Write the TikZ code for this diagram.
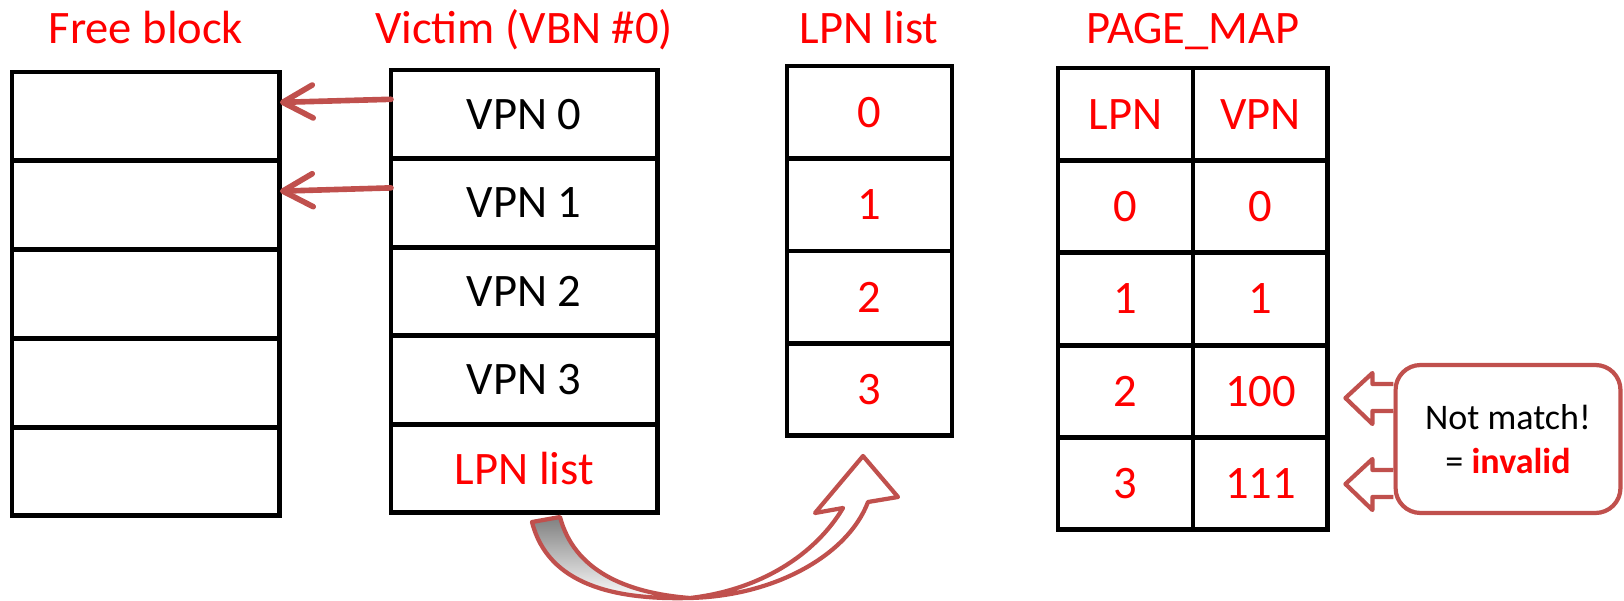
\documentclass[tikz,border=0pt]{standalone}
\usepackage{fontspec}
\setmainfont{Carlito}
\usetikzlibrary{positioning,arrows.meta}
\definecolor{accred}{RGB}{192,80,77}
\definecolor{txtred}{RGB}{255,0,0}
\definecolor{shade}{RGB}{204,204,204}

\begin{document}
\begin{tikzpicture}[x=0.02cm,y=-0.02cm,
  every node/.style={font=\fontsize{26.5}{32}\selectfont},
  cell/.style={draw,line width=2.8pt,outer sep=0pt,inner sep=0pt},
  fcell/.style={cell,minimum width=5.36cm,minimum height=1.776cm},
  vcell/.style={cell,minimum width=5.33cm,minimum height=1.772cm},
  lcell/.style={cell,text=txtred,minimum width=3.3cm,minimum height=1.85cm},
  mcell/.style={cell,text=txtred,minimum width=2.7cm,minimum height=1.848cm},
  title/.style={text=txtred,anchor=base},
  movearrow/.style={accred,line width=3.2pt,line cap=round,
    -{Straight Barb[length=0.6cm,width=0.66cm,round]}},
  blockarrow/.style={draw=accred,fill=white,line width=2.4pt,line join=round}]
 \useasboundingbox (0,0) rectangle (1624,601);

 \node[title] (freetitle) at (146,44) {Free block};
 \node[title] (victimtitle) at (524,44) {Victim (VBN \#0)};
 \node[title] (listtitle) at (869,44) {LPN list};
 \node[title] (maptitle) at (1193,44) {PAGE\_MAP};

 % free block
 \node[fcell,anchor=north west] (f0) at (12,72) {};
 \node[fcell,below=0pt of f0] (f1) {};
 \node[fcell,below=0pt of f1] (f2) {};
 \node[fcell,below=0pt of f2] (f3) {};
 \node[fcell,below=0pt of f3] (f4) {};

 % victim block
 \node[vcell,anchor=north west] (v0) at (391,70) {VPN 0};
 \node[vcell,below=0pt of v0] (v1) {VPN 1};
 \node[vcell,below=0pt of v1] (v2) {VPN 2};
 \node[vcell,below=0pt of v2] (v3) {VPN 3};
 \node[vcell,below=0pt of v3,text=txtred] (v4) {LPN list};

 % lpn list
 \node[lcell,anchor=north west] (l0) at (787,66) {0};
 \node[lcell,below=0pt of l0] (l1) {1};
 \node[lcell,below=0pt of l1] (l2) {2};
 \node[lcell,below=0pt of l2] (l3) {3};

 % page map
 \node[mcell,anchor=north west] (lpnhead) at (1058,68) {LPN};
 \node[mcell,right=0pt of lpnhead] (vpnhead) {VPN};
 \node[mcell,below=0pt of lpnhead] (m0l) {0};
 \node[mcell,below=0pt of vpnhead] (m0v) {0};
 \node[mcell,below=0pt of m0l] (m1l) {1};
 \node[mcell,below=0pt of m0v] (m1v) {1};
 \node[mcell,below=0pt of m1l] (m2l) {2};
 \node[mcell,below=0pt of m1v] (m2v) {100};
 \node[mcell,below=0pt of m2l] (m3l) {3};
 \node[mcell,below=0pt of m2v] (m3v) {111};

 \draw[movearrow] ([yshift=0.3cm]v0.west) -- ([yshift=0.28cm]f0.east);
 \draw[movearrow] ([yshift=0.3cm]v1.west) -- ([yshift=0.28cm]f1.east);

 % curved arrow from the lpn list page
 \fill[shade] (532,522) .. controls (548,585) and (615,600) .. (690,598)
   .. controls (625,593) and (574,570) .. (560,517) -- cycle;
 \draw[accred,line width=2.4pt,line join=round]
   (532,522) .. controls (548,585) and (615,600) .. (690,598)
   .. controls (775,596) and (848,555) .. (868,502)
   -- (898,497) -- (863,456) -- (815,513) -- (843,508)
   .. controls (815,555) and (760,590) .. (690,598)
   .. controls (625,593) and (574,570) .. (560,517) -- cycle;

 \node[draw=accred,line width=2.4pt,rounded corners=0.5cm,minimum width=4.5cm,
   minimum height=2.96cm,align=center,font=\fontsize{20.5}{25}\selectfont]
   (note) at (1508,439) {Not match!\\= \textbf{\textcolor{txtred}{invalid}}};
 \draw[blockarrow] (note.west) ++(0,-55) -- ++(-21,0) -- ++(0,-11)
   -- ++(-27,25) -- ++(27,26) -- ++(0,-13) -- ++(21,0);
 \draw[blockarrow] (note.west) ++(0,31) -- ++(-21,0) -- ++(0,-11)
   -- ++(-27,25) -- ++(27,26) -- ++(0,-13) -- ++(21,0);
\end{tikzpicture}
\end{document}
